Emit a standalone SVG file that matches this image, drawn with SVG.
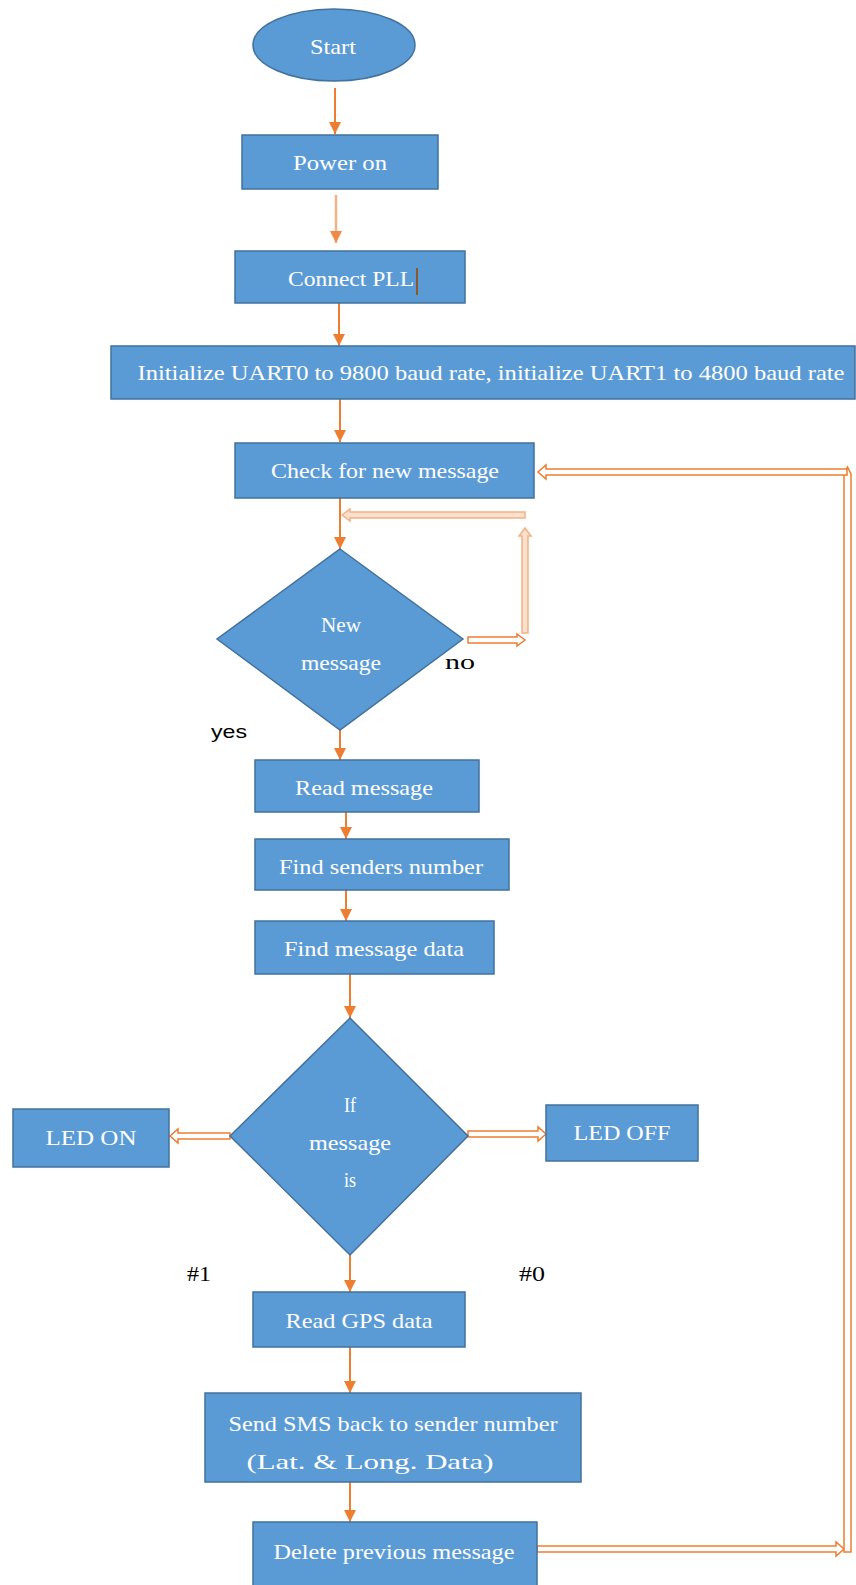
<svg xmlns="http://www.w3.org/2000/svg" width="856" height="1585" viewBox="0 0 856 1585">
<defs>
<style>
.box{fill:#5B9BD5;stroke:#41719C;stroke-width:1.5}
.t{font-family:"Liberation Serif",serif;font-size:22px;fill:#fff;text-anchor:middle;dominant-baseline:central}
.lbl{font-family:"Liberation Serif",serif;font-size:21px;fill:#000;dominant-baseline:central}
.ar{stroke:#ED7D31;stroke-width:2;fill:none}
.arl{stroke:#F4B183;stroke-width:2.5;fill:none}
.hol{fill:#fff;stroke:#ED7D31;stroke-width:1.5}
.holl{fill:#FBE0D0;stroke:#F4B183;stroke-width:1.5}
</style>
<marker id="ah" markerUnits="userSpaceOnUse" markerWidth="14" markerHeight="14" refX="12" refY="7" orient="auto">
<path d="M0,1 L12,7 L0,13 z" fill="#ED7D31"/>
</marker>
<marker id="ahl" markerUnits="userSpaceOnUse" markerWidth="14" markerHeight="14" refX="12" refY="7" orient="auto">
<path d="M0,1 L12,7 L0,13 z" fill="#F08A46"/>
</marker>
</defs>
<rect width="856" height="1585" fill="#fff"/>

<g id="connectors">
<line class="ar" x1="335" y1="88" x2="335" y2="134" marker-end="url(#ah)"/>
<line class="arl" x1="336" y1="195" x2="336" y2="243" marker-end="url(#ahl)"/>
<line class="ar" x1="339" y1="303" x2="339" y2="346" marker-end="url(#ah)"/>
<line class="ar" x1="340" y1="399" x2="340" y2="442" marker-end="url(#ah)"/>
<line class="ar" x1="340" y1="498" x2="340" y2="549" marker-end="url(#ah)"/>
<line class="ar" x1="340" y1="713" x2="340" y2="760" marker-end="url(#ah)"/>
<line class="ar" x1="346" y1="793" x2="346" y2="839" marker-end="url(#ah)"/>
<line class="ar" x1="346" y1="877" x2="346" y2="921" marker-end="url(#ah)"/>
<line class="ar" x1="350" y1="974" x2="350" y2="1018" marker-end="url(#ah)"/>
<line class="ar" x1="350" y1="1255" x2="350" y2="1292" marker-end="url(#ah)"/>
<line class="ar" x1="350" y1="1347" x2="350" y2="1393" marker-end="url(#ah)"/>
<line class="ar" x1="350" y1="1482" x2="350" y2="1522" marker-end="url(#ah)"/>
<polygon class="hol" points="468,637 517,637 517,634 525,640 517,646 517,643 468,643"/>
<polygon class="holl" points="522,633 522,536 519,536 525,528 531,536 528,536 528,633"/>
<polygon class="holl" points="525,512 350,512 350,509 342,515 350,521 350,518 525,518"/>
<polygon class="hol" points="230,1133 178,1133 178,1129 170,1136 178,1143 178,1139 230,1139"/>
<polygon class="hol" points="468,1131 538,1131 538,1127 546,1134 538,1141 538,1137 468,1137"/>
<polygon class="hol" points="537,1546 836,1546 836,1542 844,1549 836,1556 836,1552 537,1552"/>
<polygon class="hol" points="844,1552 844,474 847.5,467 851,474 851,1552"/>
<polygon class="hol" points="847,469 546,469 546,465 538,472 546,479 546,475 847,475"/>
</g>

<g id="start"><ellipse class="box" cx="334" cy="45" rx="81" ry="36"/><text class="t" x="333" y="46" textLength="46" lengthAdjust="spacingAndGlyphs">Start</text></g>
<g id="power"><rect class="box" x="242" y="135" width="196" height="54"/><text class="t" x="340" y="162" textLength="94" lengthAdjust="spacingAndGlyphs">Power on</text></g>
<g id="pll"><rect class="box" x="235" y="251" width="230" height="52"/><text class="t" x="351" y="278" textLength="126" lengthAdjust="spacingAndGlyphs">Connect PLL</text><line x1="417" y1="268" x2="417" y2="295" stroke="#8B5A2B" stroke-width="2"/></g>
<g id="init"><rect class="box" x="111" y="346" width="744" height="53"/><text class="t" x="491" y="372" textLength="707" lengthAdjust="spacingAndGlyphs">Initialize UART0 to 9800 baud rate, initialize UART1 to 4800 baud rate</text></g>
<g id="check"><rect class="box" x="235" y="443" width="299" height="55"/><text class="t" x="385" y="470" textLength="228" lengthAdjust="spacingAndGlyphs">Check for new message</text></g>
<g id="newmsg"><polygon class="box" points="340,549 463,639 340,730 217,639"/><text class="t" x="341" y="624" textLength="40" lengthAdjust="spacingAndGlyphs">New</text><text class="t" x="341" y="662" textLength="80" lengthAdjust="spacingAndGlyphs">message</text></g>
<g id="readmsg"><rect class="box" x="255" y="760" width="224" height="52"/><text class="t" x="364" y="787" textLength="138" lengthAdjust="spacingAndGlyphs">Read message</text></g>
<g id="sender"><rect class="box" x="255" y="839" width="254" height="51"/><text class="t" x="381" y="866" textLength="204" lengthAdjust="spacingAndGlyphs">Find senders number</text></g>
<g id="msgdata"><rect class="box" x="255" y="921" width="239" height="53"/><text class="t" x="374" y="948" textLength="180" lengthAdjust="spacingAndGlyphs">Find message data</text></g>
<g id="ifmsg"><polygon class="box" points="350,1018 468,1136 350,1255 230,1136"/><text class="t" x="350" y="1104" textLength="12" lengthAdjust="spacingAndGlyphs">If</text><text class="t" x="350" y="1142" textLength="82" lengthAdjust="spacingAndGlyphs">message</text><text class="t" x="350" y="1179" textLength="12" lengthAdjust="spacingAndGlyphs">is</text></g>
<g id="ledon"><rect class="box" x="13" y="1109" width="156" height="58"/><text class="t" x="91" y="1137" textLength="91" lengthAdjust="spacingAndGlyphs">LED ON</text></g>
<g id="ledoff"><rect class="box" x="546" y="1105" width="152" height="56"/><text class="t" x="622" y="1132" textLength="97" lengthAdjust="spacingAndGlyphs">LED OFF</text></g>
<g id="gps"><rect class="box" x="253" y="1292" width="212" height="55"/><text class="t" x="359" y="1320" textLength="147" lengthAdjust="spacingAndGlyphs">Read GPS data</text></g>
<g id="sms"><rect class="box" x="205" y="1393" width="376" height="89"/><text class="t" x="393" y="1423" textLength="329" lengthAdjust="spacingAndGlyphs">Send SMS back to sender number</text><text class="t" x="370" y="1461" textLength="247" lengthAdjust="spacingAndGlyphs">(Lat. &amp; Long. Data)</text></g>
<g id="delete"><rect class="box" x="253" y="1522" width="284" height="70"/><text class="t" x="394" y="1551" textLength="241" lengthAdjust="spacingAndGlyphs">Delete previous message</text></g>

<g id="labels">
<text class="lbl" x="445" y="662" textLength="30" lengthAdjust="spacingAndGlyphs">no</text>
<text class="lbl" x="211" y="731" style="font-family:'Liberation Sans',sans-serif;font-size:19px" textLength="36" lengthAdjust="spacingAndGlyphs">yes</text>
<text class="lbl" x="187" y="1274" textLength="24" lengthAdjust="spacingAndGlyphs">#1</text>
<text class="lbl" x="519" y="1274" textLength="26" lengthAdjust="spacingAndGlyphs">#0</text>
</g>
</svg>
